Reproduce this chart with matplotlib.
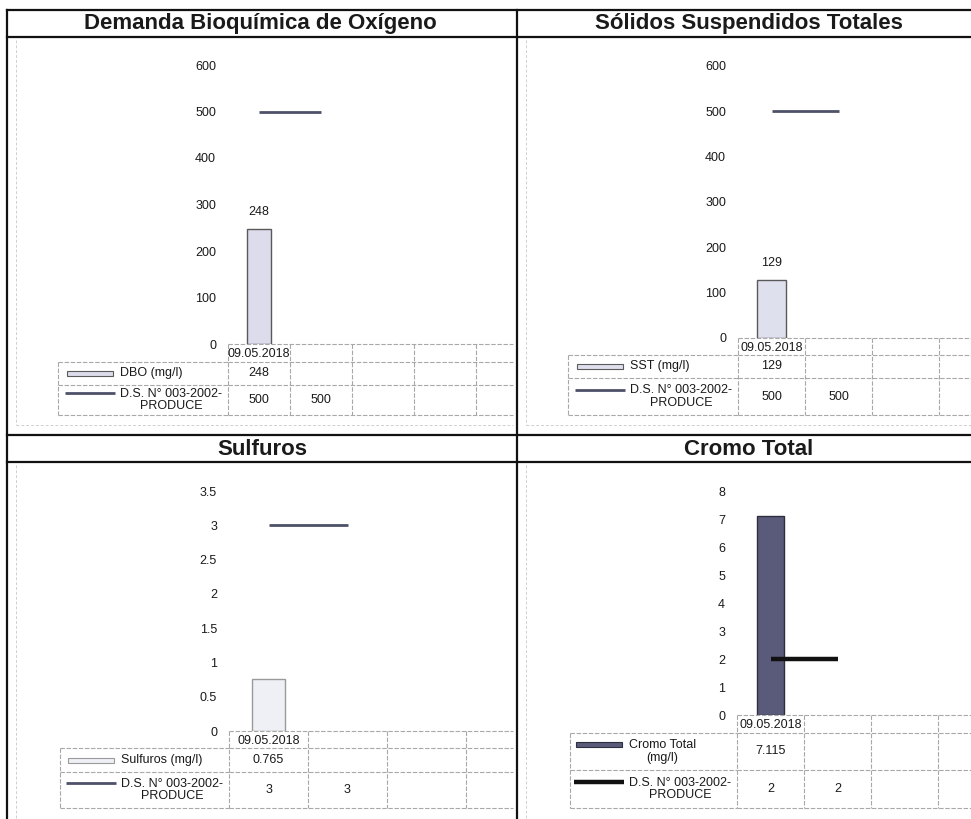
import numpy as np
import matplotlib
matplotlib.use("Agg")
import matplotlib.pyplot as plt
import matplotlib.transforms as mtransforms
from matplotlib.lines import Line2D
from matplotlib.patches import Rectangle

plt.rcParams['font.family'] = ['Liberation Sans', 'DejaVu Sans']

W, H = 971, 819

# ---- data ----
fechas = ["09.05.2018", "", "", "", ""]
titulos = ["Demanda Bioquímica de Oxígeno", "Sólidos Suspendidos Totales",
           "Sulfuros", "Cromo Total"]
series = ["DBO (mg/l)", "SST (mg/l)", "Sulfuros (mg/l)", "Cromo Total\n(mg/l)"]
medidos = [248, 129, 0.765, 7.115]
norma_nombre = "D.S. N° 003-2002-\nPRODUCE"
norma = [[500, 500], [500, 500], [3, 3], [2, 2]]
y_max = [600, 600, 3.5, 8]
y_paso = [100, 100, 0.5, 1]
con_etiqueta = [True, True, False, False]

# ---- styles / layout (pixels in the 971x819 image) ----
bar_color = ["#dcdcec", "#dfe0ee", "#eef0f6", "#5a5a7a"]
bar_edge = ["#5a5a5a", "#5a5a5a", "#9a9a9a", "#2e2e3e"]
line_color = ["#4e5268", "#4e5268", "#4e5268", "#111111"]
line_w = [2.0, 2.0, 2.0, 3.2]
bar_w = [0.40, 0.42, 0.42, 0.39]
# plot left, plot top, plot right, plot bottom (value 0), column width
caja = [(228, 65, 513, 344, 62), (738, 66, 971, 338, 67),
        (229, 491, 513, 731, 79), (737, 491, 971, 715, 67)]
# bottoms of header row, row 1, row 2 ; table left
filas = [(362, 385, 415), (355, 378, 415), (748, 772, 808), (733, 770, 808)]
tabla_izq = [58, 568, 60, 570]
titulo_pos = [(260, 24), (749, 24), (262, 449), (749, 449)]

fig = plt.figure(figsize=(W / 100, H / 100), dpi=100)


def fx(x):
    return x / W


def fy(y):
    return 1 - y / H


def linea(xs, ys, **kw):
    fig.add_artist(Line2D([fx(v) for v in xs], [fy(v) for v in ys],
                          transform=fig.transFigure, **kw))


grid_kw = dict(color="#a8a8a8", lw=0.8, linestyle=(0, (4, 1.5)))

for i in range(4):
    x0, y0, x1, yb, cw = caja[i]
    ax = fig.add_axes([fx(x0), fy(yb), (x1 - x0) / W, (yb - y0) / H])
    xr = -0.5 + (x1 - x0) / cw
    ax.set_xlim(-0.5, xr)
    ax.set_ylim(0, y_max[i])
    ticks = np.arange(0, y_max[i] + y_paso[i] / 2, y_paso[i])
    ax.set_yticks(ticks)
    ax.set_yticklabels([f"{t:g}" for t in ticks])
    ax.tick_params(axis="y", length=0, pad=8.6, labelsize=9, labelcolor="#1a1a1a")
    ax.set_xticks([])
    for s in ax.spines.values():
        s.set_visible(False)
    ax.patch.set_alpha(0)

    ax.bar([0], [medidos[i]], width=bar_w[i], color=bar_color[i],
           edgecolor=bar_edge[i], linewidth=1.0, zorder=2)
    ax.plot([0, 1], norma[i], color=line_color[i], lw=line_w[i], zorder=3,
            solid_capstyle="butt")
    if con_etiqueta[i]:
        ax.annotate(f"{medidos[i]:g}", (0, medidos[i]), xytext=(0, 12),
                    textcoords="offset points", ha="center", va="center",
                    fontsize=9, color="#1a1a1a")

    # ---- data table under the axis ----
    tr = mtransforms.blended_transform_factory(ax.transData, fig.transFigure)
    h_b, r1_b, r2_b = filas[i]
    for yy in (yb, h_b, r1_b, r2_b):
        fig.add_artist(Line2D([-0.5, xr], [fy(yy), fy(yy)], transform=tr,
                              clip_on=False, **grid_kw))
    edges = [k - 0.5 for k in range(len(fechas) + 1) if k - 0.5 <= xr]
    for e in edges:
        fig.add_artist(Line2D([e, e], [fy(yb), fy(r2_b)], transform=tr,
                              clip_on=False, **grid_kw))
    tl = tabla_izq[i]
    for yy in (h_b, r1_b, r2_b):
        linea([tl, x0], [yy, yy], **grid_kw)
    linea([tl, tl], [h_b, r2_b], **grid_kw)

    for k, f in enumerate(fechas):
        if k - 0.5 < xr and f:
            fig.text(k, fy((yb + h_b) / 2 + 1), f, transform=tr, ha="center",
                     va="center", fontsize=9, color="#1a1a1a")
    fig.text(0, fy((h_b + r1_b) / 2), f"{medidos[i]:g}", transform=tr,
             ha="center", va="center", fontsize=9, color="#1a1a1a")
    for k, v in enumerate(norma[i]):
        fig.text(k, fy((r1_b + r2_b) / 2), f"{v:g}", transform=tr,
                 ha="center", va="center", fontsize=9, color="#1a1a1a")

    # row labels with legend keys
    c1 = (h_b + r1_b) / 2
    c2 = (r1_b + r2_b) / 2
    doble1 = "\n" in series[i]
    fig.text(fx(x0 - 108), fy(c1), series[i], ha="left", va="center",
             multialignment="center", fontsize=9, linespacing=1.1,
             color="#1a1a1a")
    k1 = c1 - 7 if doble1 else c1
    fig.add_artist(Rectangle((fx(x0 - 161), fy(k1 + 2.5)), 46 / W, 5 / H,
                             transform=fig.transFigure, facecolor=bar_color[i],
                             edgecolor=bar_edge[i], lw=0.8))
    fig.text(fx(x0 - 108), fy(c2), norma_nombre, ha="left", va="center",
             multialignment="center", fontsize=9, linespacing=1.1,
             color="#1a1a1a")
    linea([x0 - 163, x0 - 113], [c2 - 7, c2 - 7], color=line_color[i],
          lw=line_w[i], solid_capstyle="butt")

    # panel title
    fig.text(fx(titulo_pos[i][0]), fy(titulo_pos[i][1]), titulos[i],
             ha="center", va="center", fontsize=16, fontweight="bold",
             color="#1a1a1a")

# ---- panel frame ----
borde = dict(color="#111111", lw=1.6)
for yy in (10, 37, 435, 462):
    linea([7, W], [yy, yy], **borde)
linea([7, 7], [10, H], **borde)
linea([517, 517], [10, H], **borde)

# faint chart-area borders from the scan
tenue = dict(color="#cfcfcf", lw=0.7, linestyle=(0, (3, 2)))
for xx in (16, 526):
    linea([xx, xx], [40, 425], **tenue)
    linea([xx, xx], [465, H], **tenue)
linea([16, 513], [425, 425], **tenue)
linea([526, W], [425, 425], **tenue)

fig.savefig("out.png", dpi=100, facecolor="white")
